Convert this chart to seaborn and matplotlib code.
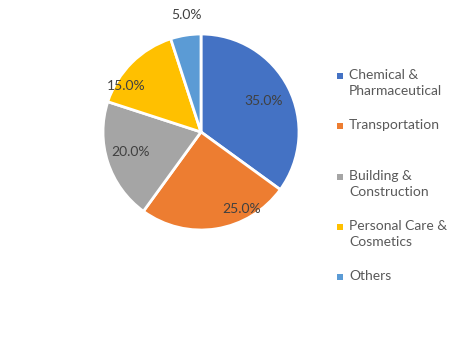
import matplotlib
matplotlib.use("Agg")
import matplotlib.pyplot as plt
import seaborn as sns
from matplotlib.patches import Rectangle

sns.set_theme(style="white")
plt.rcParams['font.family'] = ['Lato', 'DejaVu Sans']

categories = ["Chemical &\nPharmaceutical", "Transportation", "Building &\nConstruction",
              "Personal Care &\nCosmetics", "Others"]
shares = [35.0, 25.0, 20.0, 15.0, 5.0]
colors = ["#4472C4", "#ED7D31", "#A5A5A5", "#FFC000", "#5B9BD5"]

fig = plt.figure(figsize=(4.76, 3.45), dpi=100)
W, H = 476, 345
cx, cy, r = 201, 132, 98
ax = fig.add_axes([(cx - r) / W, 1 - (cy + r) / H, 2 * r / W, 2 * r / H])

wedges, texts, autotexts = ax.pie(
    shares, colors=colors, startangle=90, counterclock=False,
    autopct="%.1f%%", pctdistance=0.72,
    wedgeprops=dict(edgecolor="white", linewidth=2),
    textprops=dict(color="#404040", fontsize=10),
)
ax.set_xlim(-1, 1)
ax.set_ylim(-1, 1)
ax.set_aspect("equal")

# Excel "best fit" label placement (radius-relative offsets)
label_pos = [(0.64, 0.32), (0.41, -0.79), (-0.72, -0.20), (-0.76, 0.47), (-0.15, 1.19)]
for t, (x, y) in zip(autotexts, label_pos):
    t.set_position((x, y))
    t.set_ha("center")
    t.set_va("center")

# legend drawn manually (marker aligned with first line, as in Excel)
leg_x, leg_y0, step = 340, 76, 50.3
for i, (lab, col) in enumerate(zip(categories, colors)):
    y = leg_y0 + i * step
    fig.patches.append(Rectangle(((leg_x - 3) / W, 1 - (y + 3) / H), 6 / W, 6 / H,
                                 transform=fig.transFigure, facecolor=col, edgecolor="none"))
    fig.text((leg_x + 9) / W, 1 - (y - 7) / H, lab, ha="left", va="top",
             fontsize=10, color="#595959", linespacing=1.4)

fig.savefig("out.png", dpi=100)
